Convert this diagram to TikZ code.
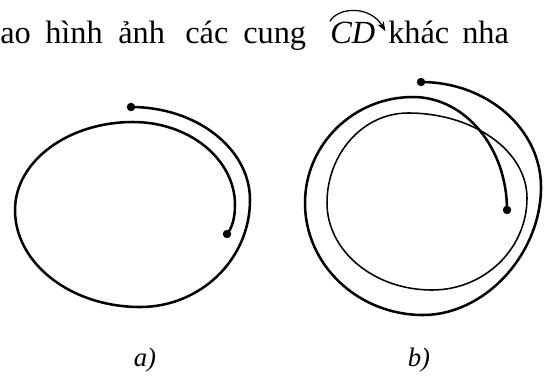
\documentclass[tikz,border=0pt]{standalone}
\usepackage{fontspec}
\setmainfont{Liberation Serif}
\usetikzlibrary{arrows.meta, positioning}

\begin{document}
\begin{tikzpicture}[x=0.025cm, y=-0.025cm,
  txt/.style={font=\fontsize{23}{27}\selectfont, inner sep=0pt, anchor=base west},
  lbl/.style={font=\fontsize{19}{22}\selectfont\itshape, inner sep=0pt, anchor=base},
  arcline/.style={line width=1.8pt, line cap=round},
  circline/.style={line width=1.1pt},
  dot/.style={circle, fill=black, inner sep=0pt, minimum size=6pt},
  accent/.style={line width=0.9pt, -{Stealth[length=7pt, width=5pt]}}
]

\useasboundingbox (0,0) rectangle (544,376);
\clip (0,0) rectangle (544,376);

%% dòng chữ phía trên
\foreach \w/\x/\n in {ao/0/w1, hình/45/w2, ảnh/118/w3, các/185/w4, cung/243/w5, khác/388/w6, nha/462/w7}
  \node[txt] (\n) at (\x,43) {\w};
\node[txt] (cd) at (330,43) {\textit{CD}};
\draw[accent] (cd.north west) .. controls (338,7) and (370,5) .. ([shift={(10,10)}]cd.north east);

%% hình a)
\node[dot] (ca) at (131,107) {};
\node[dot] (da) at (227,234) {};
\draw[arcline] (ca.center) .. controls (196.7,107) and (250,148.7) .. (250,200)
  .. controls (250,259.1) and (200.7,307) .. (140,307)
  .. controls (71,307) and (15,263.5) .. (15,210)
  .. controls (15,161.4) and (67.9,122) .. (133,122)
  .. controls (189.3,122) and (235,159.2) .. (235,205)
  .. controls (235,218) and (232,228) .. (da.center);

%% hình b)
\draw[circline] (408,113) .. controls (473.7,113) and (527,151.1) .. (527,198)
  .. controls (527,248.8) and (484.4,290) .. (432,290)
  .. controls (374,290) and (327,251) .. (327,203)
  .. controls (327,153.3) and (363.3,113) .. cycle;
\node[dot] (cb) at (421,82) {};
\node[dot] (db) at (507,210) {};
\draw[arcline] (cb.center) .. controls (487.2,82) and (541,129) .. (541,187)
  .. controls (541,254) and (485,315) .. (423,315)
  .. controls (357.9,315) and (305,264.8) .. (305,203)
  .. controls (305,144.5) and (353.4,97) .. (413,97)
  .. controls (464.9,97) and (507,147.6) .. (db.center);

%% nhãn
\node[lbl] (la) at (145,366) {a)};
\node[lbl] (lb) at (419,366) {b)};

\end{tikzpicture}
\end{document}
